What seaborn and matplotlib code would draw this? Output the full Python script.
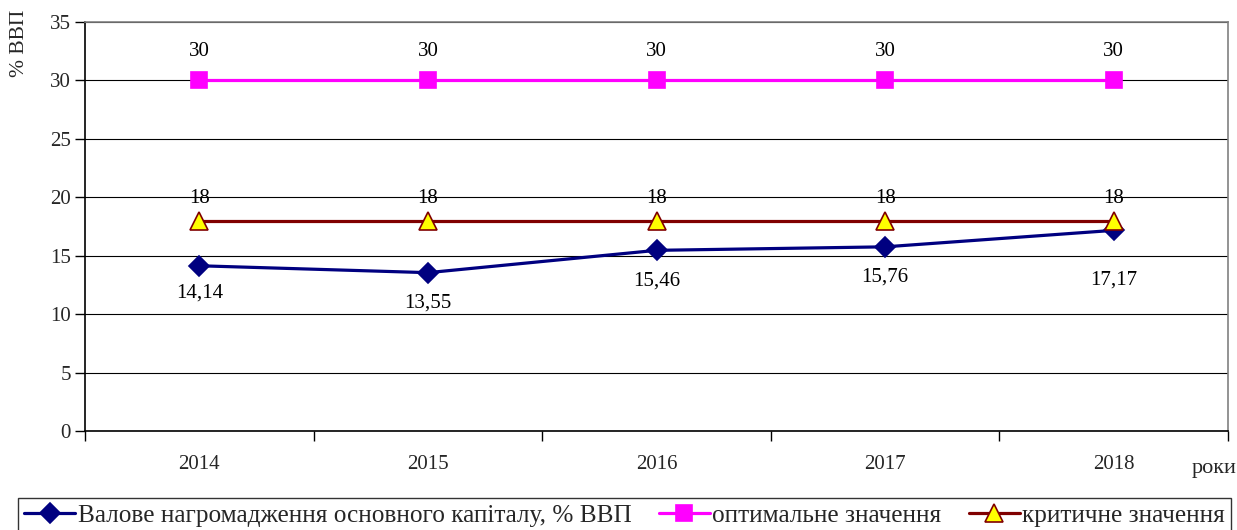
import numpy as np
import pandas as pd
import matplotlib
matplotlib.use("Agg")
import matplotlib.pyplot as plt
import seaborn as sns

years = ["2014", "2015", "2016", "2017", "2018"]
gross_capital = [14.14, 13.55, 15.46, 15.76, 17.17]
optimal = [30, 30, 30, 30, 30]
critical = [18, 18, 18, 18, 18]

series_names = [
    "Валове нагромадження основного капіталу, % ВВП",
    "оптимальне значення",
    "критичне значення",
]

sns.set_theme(style="white")
plt.rcParams["font.family"] = ["Liberation Serif", "DejaVu Serif"]

fig = plt.figure(figsize=(12.37, 5.30), dpi=100)
ax = fig.add_axes([85 / 1237, 1 - 431 / 530, (1228 - 85) / 1237, (431 - 22) / 530])

pos = np.arange(len(years)) + 0.5
df = pd.DataFrame({
    "pos": np.tile(pos, 3),
    "value": gross_capital + optimal + critical,
    "series": np.repeat(series_names, len(years)),
})

styles = {
    series_names[0]: dict(color="#000080", marker="D", mfc="#000080", mec="#000080", ms=10.5),
    series_names[1]: dict(color="#FF00FF", marker="s", mfc="#FF00FF", mec="#FF00FF", ms=11),
    series_names[2]: dict(color="#800000", marker="^", mfc="#FFFF00", mec="#800000", ms=13),
}

handles = []
for name in series_names:
    st = styles[name]
    sub = df[df["series"] == name]
    sns.lineplot(data=sub, x="pos", y="value", ax=ax, color=st["color"], lw=2.3,
                 marker=st["marker"], markersize=st["ms"], markerfacecolor=st["mfc"],
                 markeredgecolor=st["mec"], markeredgewidth=1.2, legend=False, zorder=3)
    handles.append(plt.Line2D([], [], color=st["color"], lw=2.3, marker=st["marker"],
                              markersize=st["ms"], markerfacecolor=st["mfc"],
                              markeredgecolor=st["mec"], markeredgewidth=1.2))

def fmt(v):
    s = f"{v:.2f}".rstrip("0").rstrip(".")
    return s.replace(".", ",")

# labels of the main series sit below the points; the last one is pushed lower
below_offsets = [-13, -15, -15, -15, -29]
for x, v, dy in zip(pos, gross_capital, below_offsets):
    ax.annotate(fmt(v), (x, v), xytext=(0, dy), textcoords="offset points",
                ha="center", va="top", fontsize=15, color="black")
for x, v in zip(pos, optimal):
    ax.annotate(fmt(v), (x, v), xytext=(0, 14), textcoords="offset points",
                ha="center", va="bottom", fontsize=15, color="black")
for x, v in zip(pos, critical):
    ax.annotate(fmt(v), (x, v), xytext=(0, 9), textcoords="offset points",
                ha="center", va="bottom", fontsize=15, color="black")

ax.set_xlim(0, len(years))
ax.set_ylim(0, 35)
ax.set_yticks(np.arange(0, 36, 5))
ax.set_xticks(np.arange(0, len(years) + 1))
ax.set_xticklabels([])
ax.set_xticks(pos, minor=True)
ax.set_xticklabels(years, minor=True)
ax.tick_params(axis="x", which="major", direction="out", length=7, width=1, color="black", bottom=True)
ax.tick_params(axis="x", which="minor", length=0, pad=17, labelsize=15)
ax.tick_params(axis="y", direction="out", length=7, width=1, color="black", left=True, labelsize=15, pad=3)

ax.grid(axis="y", color="black", lw=0.8)
ax.set_axisbelow(True)
ax.set_xlabel("")
ax.set_ylabel("")
for side in ["left", "bottom"]:
    ax.spines[side].set_color("black")
    ax.spines[side].set_linewidth(1.2)
for side in ["top", "right"]:
    ax.spines[side].set_color("#808080")
    ax.spines[side].set_linewidth(1.2)

fig.text(20 / 1237, 1 - 43 / 530, "% ВВП", rotation=90, ha="center", va="center", fontsize=15.5)
fig.text(1214 / 1237, 1 - 468 / 530, "роки", ha="center", va="center", fontsize=16)

leg = fig.legend(handles, series_names, loc="upper center", bbox_to_anchor=(0.505, 1 - 498 / 530),
                 ncol=3, frameon=True, fancybox=False, fontsize=18.2, handlelength=2.0,
                 handletextpad=0.1, columnspacing=1.1, borderpad=0.25, borderaxespad=0)
leg.get_frame().set_edgecolor("black")
leg.get_frame().set_linewidth(1.0)

fig.savefig("out.png", dpi=100)
